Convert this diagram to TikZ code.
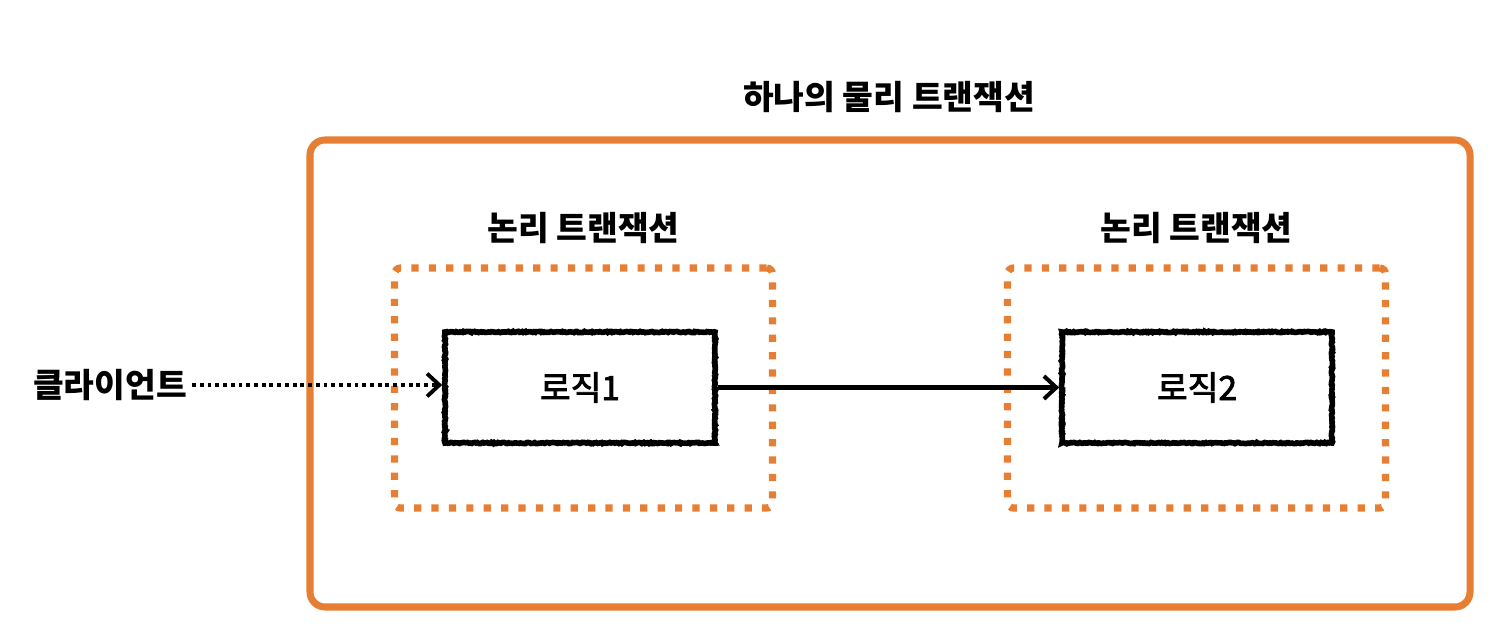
\documentclass[tikz,border=0pt]{standalone}
\usepackage{fontspec}
\setmainfont{Noto Sans CJK KR}
\newfontfamily\medfont[FakeBold=2.5]{Noto Sans CJK KR}
\usepackage{tikz}
\usetikzlibrary{arrows.meta}
\usetikzlibrary{positioning}
\usetikzlibrary{decorations.pathmorphing}
\definecolor{txorange}{HTML}{E67E33}
\tikzset{
  treenode/.style = {align=center, inner sep=0pt, text centered,
    font=\fontsize{19}{22}\selectfont},
  title_n/.style = {treenode, font=\fontsize{19}{22}\selectfont\bfseries},% 물리 트랜잭션 제목
  label_n/.style = {treenode, font=\fontsize{19}{22}\selectfont\bfseries},
  phys_box/.style = {draw=txorange, line width=4pt, rounded corners=0.3cm,
    minimum width=23.2cm, minimum height=9.34cm},% 물리 트랜잭션
  logic_tx/.style = {draw=txorange, line width=4.1pt, rounded corners=0.12cm,
    dash pattern=on 4.1pt off 5.8pt, minimum width=7.56cm, minimum height=4.8cm},% 논리 트랜잭션
  logic_n/.style = {treenode, draw=black, line width=3.2pt,
    font=\fontsize{19}{22}\selectfont\medfont,
    minimum width=5.4cm, minimum height=2.22cm,
    decoration={random steps, segment length=0.8pt, amplitude=0.35pt},
    decorate},% 로직 박스
}

\begin{document}
\begin{tikzpicture}[>={Straight Barb[length=7pt,width=13pt]}]
\pgfmathsetseed{7}
\useasboundingbox (0,0) rectangle (29.96,12.72);

\node [phys_box] (phys) at (17.8,5.25) {};
\node [title_n] (phys_t) at (17.78,10.78) {하나의 물리 트랜잭션};

\node [logic_tx] (tx1) at (11.67,4.96) {};
\node [logic_tx] (tx2) at (23.93,4.96) {};
\node [label_n, above=0.4cm of tx1.north] (tx1_t) {논리 트랜잭션};
\node [label_n, above=0.4cm of tx2.north] (tx2_t) {논리 트랜잭션};

\node [logic_n] (logic1) at (11.6,4.97) {로직1};
\node [logic_n] (logic2) at (23.94,4.97) {로직2};

\node [label_n] (client) at (2.2,5.02) {클라이언트};

\draw [->, line width=2.2pt, dash pattern=on 2.2pt off 2.2pt]
  (client.east) ++(0.1,0) -- (logic1.west |- client.east);
\draw [->, line width=2.3pt] (logic1.east) -- (logic2.west);
\end{tikzpicture}
\end{document}
